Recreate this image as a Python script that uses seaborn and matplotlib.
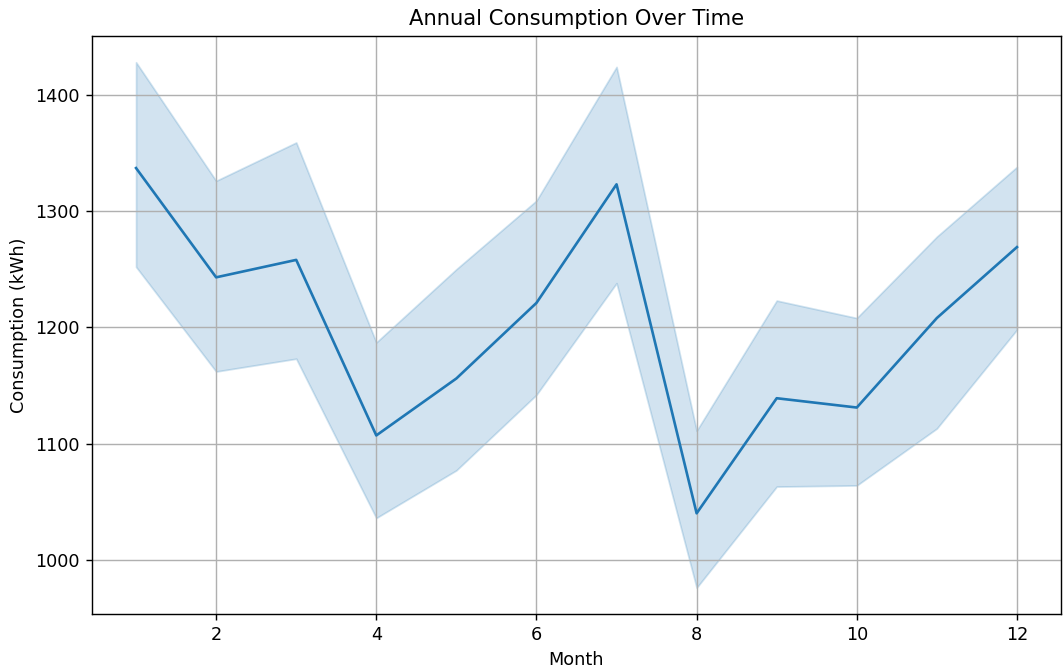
import numpy as np
import pandas as pd
import matplotlib
matplotlib.use("Agg")
import matplotlib.pyplot as plt
import seaborn as sns

# monthly mean consumption and the shaded confidence band
months = [1, 2, 3, 4, 5, 6, 7, 8, 9, 10, 11, 12]
mean_kwh = [1337, 1243, 1258, 1107, 1156, 1221, 1323, 1040, 1139, 1131, 1208, 1269]
upper_kwh = [1428, 1326, 1359, 1187, 1250, 1309, 1424, 1111, 1223, 1208, 1278, 1338]
lower_kwh = [1252, 1162, 1173, 1036, 1077, 1142, 1238, 976, 1063, 1064, 1113, 1198]

df = pd.DataFrame({"Month": months, "Consumption": mean_kwh,
                   "lo": lower_kwh, "hi": upper_kwh})

W, H = 1063, 672
DPI = 127
fig = plt.figure(figsize=(W / DPI, H / DPI + 0.0001), dpi=DPI)
ax = fig.add_axes([92 / W, 1 - 614 / H, (1061 - 92) / W, (614 - 36) / H])

sns.lineplot(data=df, x="Month", y="Consumption", color="#1f77b4", ax=ax)
ax.fill_between(df["Month"], df["lo"], df["hi"], color="#1f77b4", alpha=0.2)

ax.set_title("Annual Consumption Over Time")
ax.set_xlabel("Month")
ax.set_ylabel("Consumption (kWh)")
ax.set_xticks([2, 4, 6, 8, 10, 12])
ax.set_yticks([1000, 1100, 1200, 1300, 1400])
ax.grid(True)

fig.savefig("out.png", dpi=DPI)
